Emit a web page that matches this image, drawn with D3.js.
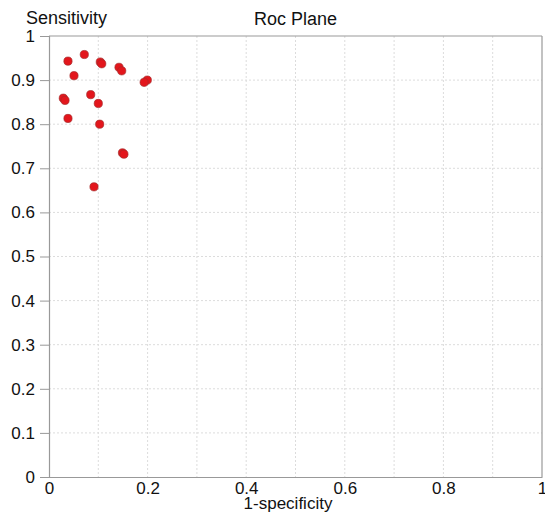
<!DOCTYPE html>
<html><head><meta charset="utf-8">
<script src="https://cdn.jsdelivr.net/npm/d3@7"></script>
<style>body{margin:0;background:#fff}svg{display:block}text{font-family:"Liberation Sans",Arial,sans-serif;fill:#111}</style>
</head><body>
<svg id="c" width="545" height="513"></svg>
<script>
const fpr  = [0.0385,0.0716,0.104,0.107,0.142,0.1475,0.0507,0.1994,0.193,0.029,0.0325,0.0846,0.100,0.0385,0.1028,0.149,0.152,0.0913];
const sens = [0.943,0.958,0.941,0.937,0.929,0.921,0.910,0.900,0.895,0.859,0.854,0.867,0.847,0.813,0.800,0.735,0.732,0.658];
const xTicks = [0,0.2,0.4,0.6,0.8,1];
const xTickLabels = ["0","0.2","0.4","0.6","0.8","1"];
const yTicks = [0,0.1,0.2,0.3,0.4,0.5,0.6,0.7,0.8,0.9,1];
const yTickLabels = ["0","0.1","0.2","0.3","0.4","0.5","0.6","0.7","0.8","0.9","1"];
const gridVals = [0.1,0.2,0.3,0.4,0.5,0.6,0.7,0.8,0.9];
const title = "Roc Plane", xTitle = "1-specificity", yTitle = "Sensitivity";

const svg = d3.select("#c");
const L=49,R=542,T=36,B=477;
const x = d3.scaleLinear().domain([0,1]).range([L,R]);
const y = d3.scaleLinear().domain([0,1]).range([B,T]);

const g = svg.append("g");
g.selectAll(".gx").data(gridVals).join("line")
  .attr("x1",d=>x(d)).attr("x2",d=>x(d)).attr("y1",T).attr("y2",B)
  .attr("stroke","#dcdcdc").attr("stroke-dasharray","2,2").attr("stroke-width",1);
g.selectAll(".gy").data(gridVals).join("line")
  .attr("y1",d=>y(d)).attr("y2",d=>y(d)).attr("x1",L).attr("x2",R)
  .attr("stroke","#dcdcdc").attr("stroke-dasharray","2,2").attr("stroke-width",1);

// border top/right
svg.append("line").attr("x1",L).attr("x2",R).attr("y1",T).attr("y2",T).attr("stroke","#999").attr("stroke-width",1.2);
svg.append("line").attr("x1",R).attr("x2",R).attr("y1",T).attr("y2",B).attr("stroke","#999").attr("stroke-width",1.2);

// y axis
const ya = svg.append("g").attr("transform",`translate(${L},0)`)
  .call(d3.axisLeft(y).tickValues(yTicks).tickFormat((d,i)=>yTickLabels[i]).tickSize(9).tickPadding(5));
ya.select(".domain").attr("stroke","#999").attr("stroke-width",1.2);
ya.selectAll(".tick line").attr("stroke","#999");
ya.selectAll(".tick text").attr("font-size",17).attr("font-family","Liberation Sans, Arial, sans-serif").attr("fill","#111");

// x axis
const xa = svg.append("g").attr("transform",`translate(0,${B})`)
  .call(d3.axisBottom(x).tickValues(xTicks).tickFormat((d,i)=>xTickLabels[i]).tickSize(0).tickPadding(5));
xa.select(".domain").attr("stroke","#999").attr("stroke-width",1.2);
xa.selectAll(".tick text").attr("font-size",17).attr("font-family","Liberation Sans, Arial, sans-serif").attr("fill","#111");

// titles
svg.append("text").attr("x",(L+R)/2).attr("y",25).attr("text-anchor","middle").attr("font-size",18).text(title);
svg.append("text").attr("x",26).attr("y",24).attr("font-size",18).text(yTitle);
svg.append("text").attr("x",288).attr("y",509).attr("text-anchor","middle").attr("font-size",17).text(xTitle);

// points
svg.append("g").selectAll("circle").data(fpr.map((d,i)=>[d,sens[i]])).join("circle")
  .attr("cx",d=>x(d[0])).attr("cy",d=>y(d[1])).attr("r",4.1)
  .attr("fill","#e3161c").attr("stroke","#a52a2a").attr("stroke-width",0.7);
</script>
</body></html>
